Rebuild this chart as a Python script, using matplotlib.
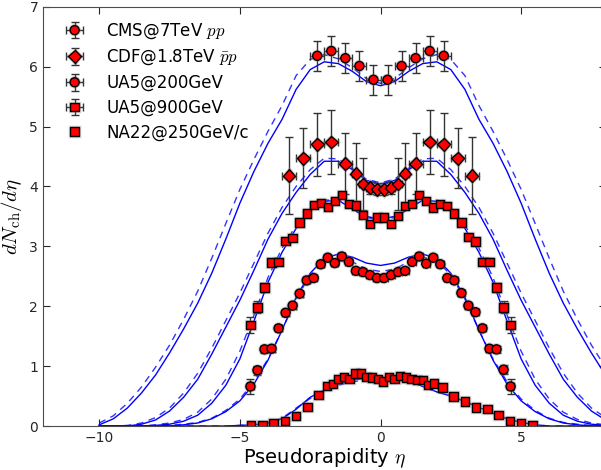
import numpy as np
import matplotlib
matplotlib.use("Agg")
import matplotlib.pyplot as plt
import matplotlib.patheffects as pe

plt.rcParams["mathtext.fontset"] = "cm"

# ---- data points ----
cms_eta = [-2.25, -1.75, -1.25, -0.75, -0.25, 0.25, 0.75, 1.25, 1.75, 2.25]
cms_val = [6.18, 6.26, 6.14, 6.01, 5.78, 5.78, 6.01, 6.14, 6.26, 6.18]
cms_err = [0.25, 0.25, 0.25, 0.25, 0.25, 0.25, 0.25, 0.25, 0.25, 0.25]

cdf_eta = [-3.25, -2.75, -2.25, -1.75, -1.25, -0.875, -0.625, -0.375, -0.125,
           0.125, 0.375, 0.625, 0.875, 1.25, 1.75, 2.25, 2.75, 3.25]
cdf_val = [4.18, 4.47, 4.70, 4.74, 4.38, 4.21, 4.04, 3.98, 3.95,
           3.95, 3.98, 4.04, 4.21, 4.38, 4.74, 4.70, 4.47, 4.18]
cdf_err = [0.64, 0.50, 0.53, 0.53, 0.51, 0.51, 0.44, 0.10, 0.10,
           0.10, 0.10, 0.44, 0.51, 0.51, 0.53, 0.53, 0.50, 0.64]
cdf_xerr = [0.25, 0.25, 0.25, 0.25, 0.25, 0.125, 0.125, 0.125, 0.125,
            0.125, 0.125, 0.125, 0.125, 0.25, 0.25, 0.25, 0.25, 0.25]

ua5_eta = [-4.625, -4.375, -4.125, -3.875, -3.625, -3.375, -3.125, -2.875, -2.625,
           -2.375, -2.125, -1.875, -1.625, -1.375, -1.125, -0.875, -0.625, -0.375,
           -0.125, 0.125, 0.375, 0.625, 0.875, 1.125, 1.375, 1.625, 1.875, 2.125,
           2.375, 2.625, 2.875, 3.125, 3.375, 3.625, 3.875, 4.125, 4.375, 4.625]

ua5_200_val = [0.66, 0.93, 1.28, 1.29, 1.63, 1.89, 2.01, 2.21, 2.43,
               2.47, 2.70, 2.81, 2.72, 2.83, 2.74, 2.59, 2.57, 2.52,
               2.47, 2.47, 2.52, 2.57, 2.59, 2.74, 2.83, 2.71, 2.81, 2.70,
               2.47, 2.43, 2.22, 2.01, 1.90, 1.63, 1.29, 1.28, 0.94, 0.66]
ua5_200_err = [0.12, 0.08, 0.06, 0.05, 0.05, 0.05, 0.05, 0.05, 0.04,
               0.04, 0.04, 0.04, 0.04, 0.04, 0.04, 0.04, 0.04, 0.04,
               0.04, 0.04, 0.04, 0.04, 0.04, 0.04, 0.04, 0.04, 0.04, 0.04,
               0.04, 0.04, 0.05, 0.05, 0.05, 0.05, 0.05, 0.06, 0.08, 0.12]

ua5_900_val = [1.69, 1.98, 2.31, 2.73, 2.74, 3.09, 3.14, 3.40, 3.55,
               3.69, 3.72, 3.66, 3.76, 3.86, 3.71, 3.68, 3.52, 3.37,
               3.48, 3.48, 3.37, 3.51, 3.67, 3.71, 3.86, 3.76, 3.65, 3.71,
               3.67, 3.55, 3.40, 3.15, 3.08, 2.74, 2.74, 2.31, 1.98, 1.69]
ua5_900_err = [0.13, 0.10, 0.08, 0.06, 0.06, 0.05, 0.05, 0.04, 0.04,
               0.04, 0.04, 0.04, 0.04, 0.04, 0.04, 0.04, 0.04, 0.04,
               0.04, 0.04, 0.04, 0.04, 0.04, 0.04, 0.04, 0.04, 0.04, 0.04,
               0.04, 0.04, 0.04, 0.05, 0.05, 0.06, 0.06, 0.08, 0.10, 0.13]

na22_eta = [-4.6, -4.2, -3.8, -3.4, -3.0, -2.6, -2.2, -1.9, -1.7, -1.5, -1.3, -1.1,
            -0.9, -0.7, -0.5, -0.3, -0.1, 0.1, 0.3, 0.5, 0.7, 0.9, 1.1, 1.3, 1.5,
            1.7, 1.9, 2.2, 2.6, 3.0, 3.4, 3.8, 4.2, 4.6, 5.0, 5.4]
na22_val = [0.01, 0.02, 0.045, 0.08, 0.17, 0.32, 0.52, 0.67, 0.70, 0.78, 0.82, 0.78,
            0.875, 0.875, 0.82, 0.81, 0.78, 0.745, 0.82, 0.79, 0.835, 0.81, 0.78, 0.77, 0.77,
            0.68, 0.71, 0.64, 0.49, 0.41, 0.31, 0.28, 0.18, 0.08, 0.045, 0.02]

# ---- model curves (blue), read every 0.5 in eta ----
curve_eta = [-10.0, -9.5, -9.0, -8.5, -8.0, -7.5, -7.0, -6.5, -6.0, -5.5, -5.0,
             -4.5, -4.0, -3.5, -3.0, -2.5, -2.0, -1.5, -1.0, -0.5, 0.0,
             0.5, 1.0, 1.5, 2.0, 2.5, 3.0, 3.5, 4.0, 4.5, 5.0,
             5.5, 6.0, 6.5, 7.0, 7.5, 8.0, 8.5, 9.0, 9.5, 10.0]

m7000_solid = [0.02, 0.12, 0.30, 0.55, 0.85, 1.22, 1.62, 2.05, 2.55, 3.12, 3.72,
               4.25, 4.72, 5.12, 5.62, 5.95, 6.08, 6.05, 5.92, 5.75, 5.68,
               5.75, 5.92, 6.05, 6.08, 5.95, 5.62, 5.12, 4.72, 4.25, 3.72,
               3.12, 2.55, 2.05, 1.62, 1.22, 0.85, 0.55, 0.30, 0.12, 0.02]
m7000_dash = [0.05, 0.17, 0.38, 0.65, 0.98, 1.35, 1.78, 2.25, 2.80, 3.38, 3.95,
              4.45, 4.92, 5.35, 5.85, 6.12, 6.20, 6.13, 5.98, 5.80, 5.72,
              5.80, 5.98, 6.13, 6.20, 6.12, 5.85, 5.35, 4.92, 4.45, 3.95,
              3.38, 2.80, 2.25, 1.78, 1.35, 0.98, 0.65, 0.38, 0.17, 0.05]

m1800_solid = [0.0, 0.0, 0.0, 0.03, 0.10, 0.25, 0.48, 0.78, 1.20, 1.65, 2.10,
               2.60, 3.12, 3.55, 3.90, 4.20, 4.42, 4.42, 4.28, 4.10, 4.04,
               4.10, 4.28, 4.42, 4.42, 4.20, 3.90, 3.55, 3.12, 2.60, 2.10,
               1.65, 1.20, 0.78, 0.48, 0.25, 0.10, 0.03, 0.0, 0.0, 0.0]
m1800_dash = [0.0, 0.0, 0.01, 0.05, 0.14, 0.30, 0.55, 0.88, 1.30, 1.76, 2.22,
              2.72, 3.22, 3.65, 4.00, 4.28, 4.47, 4.46, 4.30, 4.12, 4.06,
              4.12, 4.30, 4.46, 4.47, 4.28, 4.00, 3.65, 3.22, 2.72, 2.22,
              1.76, 1.30, 0.88, 0.55, 0.30, 0.14, 0.05, 0.01, 0.0, 0.0]

m900_solid = [0.0, 0.0, 0.0, 0.0, 0.01, 0.03, 0.08, 0.18, 0.38, 0.68, 1.12,
              1.75, 2.40, 2.90, 3.30, 3.60, 3.75, 3.77, 3.62, 3.50, 3.45,
              3.50, 3.62, 3.77, 3.75, 3.60, 3.30, 2.90, 2.40, 1.75, 1.12,
              0.68, 0.38, 0.18, 0.08, 0.03, 0.01, 0.0, 0.0, 0.0, 0.0]
m900_dash = [0.0, 0.0, 0.0, 0.0, 0.02, 0.05, 0.11, 0.23, 0.45, 0.78, 1.25,
             1.85, 2.48, 2.97, 3.35, 3.63, 3.77, 3.78, 3.62, 3.48, 3.44,
             3.48, 3.62, 3.78, 3.77, 3.63, 3.35, 2.97, 2.48, 1.85, 1.25,
             0.78, 0.45, 0.23, 0.11, 0.05, 0.02, 0.0, 0.0, 0.0, 0.0]

m200_solid = [0.0, 0.0, 0.0, 0.0, 0.0, 0.0, 0.02, 0.05, 0.12, 0.24, 0.42,
              0.70, 1.10, 1.60, 2.15, 2.55, 2.80, 2.87, 2.82, 2.72, 2.68,
              2.72, 2.82, 2.87, 2.80, 2.55, 2.15, 1.60, 1.10, 0.70, 0.42,
              0.24, 0.12, 0.05, 0.02, 0.0, 0.0, 0.0, 0.0, 0.0, 0.0]
m200_dash = [0.0, 0.0, 0.0, 0.0, 0.0, 0.01, 0.03, 0.06, 0.13, 0.26, 0.45,
             0.74, 1.12, 1.60, 2.12, 2.52, 2.76, 2.82, 2.74, 2.62, 2.58,
             2.62, 2.74, 2.82, 2.76, 2.52, 2.12, 1.60, 1.12, 0.74, 0.45,
             0.26, 0.13, 0.06, 0.03, 0.01, 0.0, 0.0, 0.0, 0.0, 0.0]

m250_solid = [0.0, 0.0, 0.0, 0.0, 0.0, 0.0, 0.0, 0.0, 0.0, 0.0, 0.01,
              0.02, 0.05, 0.12, 0.28, 0.48, 0.60, 0.70, 0.77, 0.80, 0.80,
              0.81, 0.76, 0.66, 0.57, 0.50, 0.41, 0.31, 0.21, 0.12, 0.06,
              0.02, 0.0, 0.0, 0.0, 0.0, 0.0, 0.0, 0.0, 0.0, 0.0]
m250_dash = [0.0, 0.0, 0.0, 0.0, 0.0, 0.0, 0.0, 0.0, 0.0, 0.0, 0.01,
             0.02, 0.05, 0.13, 0.30, 0.46, 0.58, 0.68, 0.74, 0.77, 0.78,
             0.79, 0.75, 0.66, 0.57, 0.50, 0.41, 0.31, 0.21, 0.12, 0.06,
             0.02, 0.0, 0.0, 0.0, 0.0, 0.0, 0.0, 0.0, 0.0, 0.0]

fig = plt.figure(figsize=(6.01, 4.70), dpi=100)
ax = fig.add_axes([43/601, 44/470, 562.5/601, 419.3/470])

solids = [m7000_solid, m1800_solid, m900_solid, m200_solid, m250_solid]
dashes = [m7000_dash, m1800_dash, m900_dash, m200_dash, m250_dash]
for s, d in zip(solids, dashes):
    ax.plot(curve_eta, s, color="blue", lw=1.0, zorder=2)
    ax.plot(curve_eta, d, color="blue", lw=1.0, ls="--", dashes=(5, 4),
            alpha=0.8, zorder=2)

halo = [pe.Stroke(linewidth=2.5, foreground="0.5", alpha=0.35), pe.Normal()]
mk = dict(mfc="red", mec="black", mew=1.0, ecolor="0.2", elinewidth=1.0,
          capsize=3, ls="none", zorder=4)
handles = []
h = ax.errorbar(cms_eta, cms_val, yerr=cms_err, xerr=0.25, fmt="o", ms=6.5,
                label=r"CMS@7TeV $pp$", **mk)
handles.append(h)
h = ax.errorbar(cdf_eta, cdf_val, yerr=cdf_err, xerr=cdf_xerr, fmt="D", ms=6.5,
                label=r"CDF@1.8TeV $\bar{p}p$", **mk)
handles.append(h)
h = ax.errorbar(ua5_eta, ua5_200_val, yerr=ua5_200_err, xerr=0.125, fmt="o", ms=6.5,
                label="UA5@200GeV", **mk)
handles.append(h)
h = ax.errorbar(ua5_eta, ua5_900_val, yerr=ua5_900_err, xerr=0.125, fmt="s", ms=6,
                label="UA5@900GeV", **mk)
handles.append(h)
h, = ax.plot(na22_eta, na22_val, "s", ms=6, mfc="red", mec="black", mew=1.0,
             ls="none", zorder=4, label="NA22@250GeV/c")
handles.append(h)
for c in handles[:4]:
    c[0].set_path_effects(halo)
h.set_path_effects(halo)

ax.set_xlim(-12, 8)
ax.set_ylim(0, 7)
ax.set_xticks([-10, -5, 0, 5])
ax.set_yticks(range(8))
ax.tick_params(direction="in", top=True, right=True, length=5, labelsize=10,
               colors="0.15")
for sp in ax.spines.values():
    sp.set_color("0.3")
ax.set_xlabel(r"Pseudorapidity $\eta$", fontsize=14, labelpad=1)
ax.set_ylabel(r"$dN_{\rm ch}/d\eta$", fontsize=15)

ax.legend(handles=handles, loc="upper left", frameon=False, fontsize=12,
          numpoints=1, handlelength=2.0, labelspacing=0.4, borderaxespad=0.5,
          handletextpad=0.9)

fig.savefig("out.png", dpi=100)
